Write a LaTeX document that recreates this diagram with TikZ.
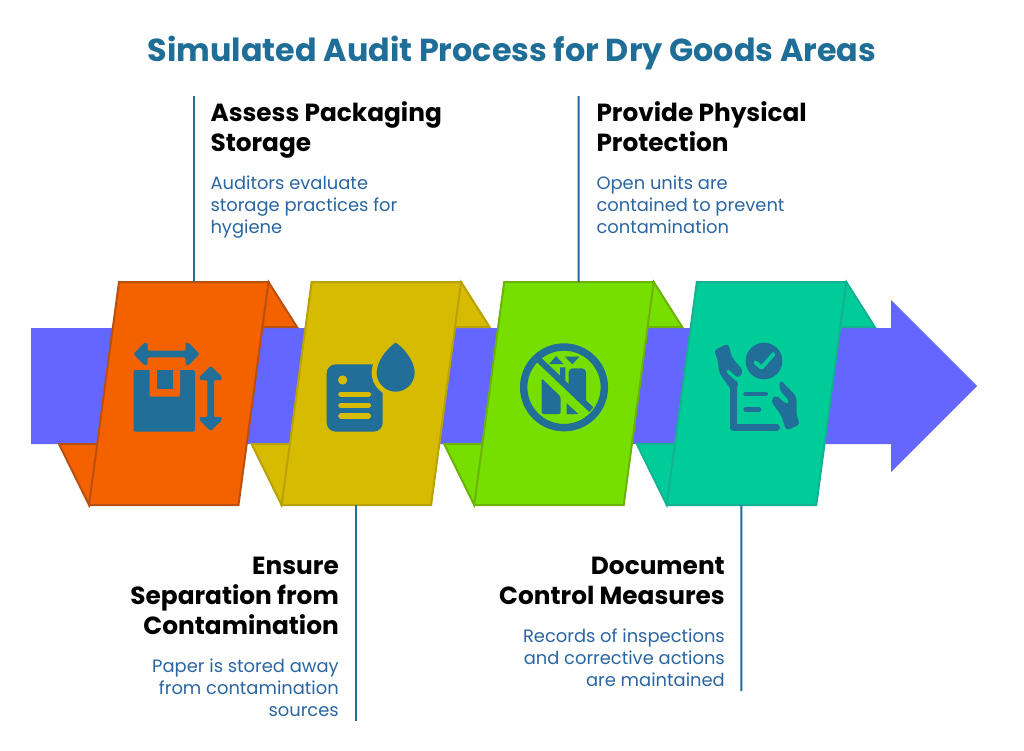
\documentclass[tikz,border=0pt]{standalone}
\usepackage{fontspec}
\setmainfont{Poppins}
\usetikzlibrary{positioning}

\definecolor{titleblue}{HTML}{1F6E97}
\definecolor{textblue}{HTML}{2A66A3}
\definecolor{iconblue}{HTML}{216E99}
\definecolor{arrowblue}{HTML}{6366FF}
\definecolor{cardorange}{HTML}{F46200}
\definecolor{edgeorange}{HTML}{B9500F}
\definecolor{cardyellow}{HTML}{D6BB00}
\definecolor{edgeyellow}{HTML}{B8A205}
\definecolor{cardgreen}{HTML}{76DF00}
\definecolor{edgegreen}{HTML}{6DB302}
\definecolor{cardteal}{HTML}{00CC99}
\definecolor{edgeteal}{HTML}{12B293}

\tikzset{
  heading/.style={font=\bfseries\fontsize{24.8}{30}\selectfont, inner sep=0},
  detail/.style={font=\fontsize{17.9}{22}\selectfont, text=textblue, inner sep=0},
  leader/.style={draw=iconblue, line width=2pt},
}

% double headed arrow of the first icon
\newcommand{\sizearrow}[4]{%
  \fill[iconblue, rounded corners=1.2pt, shift={(#1,#2)}, rotate=#3]
    (-#4,0) -- (-#4+10.5,-11) -- (-#4+14,-11) -- (-#4+14,-3.3) -- (#4-14,-3.3)
    -- (#4-14,-11) -- (#4-10.5,-11) -- (#4,0) -- (#4-10.5,11) -- (#4-14,11)
    -- (#4-14,3.3) -- (-#4+14,3.3) -- (-#4+14,11) -- (-#4+10.5,11) -- cycle;
}

\begin{document}
\begin{tikzpicture}[x=1pt, y=-1pt, line join=miter]
  \useasboundingbox [fill=white] (0,0) rectangle (1024,750);

  % Title
  \node [font=\bfseries\fontsize{31.8}{38}\selectfont, text=titleblue, inner sep=0, anchor=base] (title)
    at (512,61) {Simulated Audit Process for Dry Goods Areas};

  % Arrow
  \fill [arrowblue] (31,328) -- (891,328) -- (891,300) -- (977,386)
    -- (891,472) -- (891,444) -- (31,444) -- cycle;

  % Cards
  \foreach \cardc/\edgec/\nm [count=\i, evaluate={\dx=(\i-1)*192.6;}] in
    {cardorange/edgeorange/assess, cardyellow/edgeyellow/ensure,
     cardgreen/edgegreen/provide, cardteal/edgeteal/document} {
      \begin{scope}[xshift=\dx pt, fill=\cardc, draw=\edgec, line width=2pt]
        \filldraw (268.5,282) -- (297,327) -- (258,327) -- cycle;
        \filldraw (89,505) -- (59,444) -- (100,444) -- cycle;
        \filldraw (119,282) -- (268.5,282) -- (238.5,505) -- (89,505) -- cycle;
        \coordinate (\nm-top) at (193.5,282);
        \coordinate (\nm-bottom) at (163.5,505);
      \end{scope}
    }

  % Icon: package size
  \sizearrow{166.5}{354}{0}{33}
  \sizearrow{210.7}{398.5}{90}{32.5}
  \fill [iconblue, rounded corners=1.5pt] (133.5,370) rectangle (195,431.5);
  \fill [cardorange, rounded corners=1.5pt] (149.5,368) -- (149.5,396.7) -- (180,396.7) -- (180,368) -- cycle;
  \fill [iconblue] (156.7,370) rectangle (172.7,389.3);

  % Icon: wet document
  \begin{scope}[shift={(315,330)}, scale=1/3]
    \fill [iconblue, rounded corners=9pt] (35,103) rectangle (203,305);
    \path [fill=iconblue, draw=cardyellow, line width=10pt]
      (242,38) .. controls (215,55) and (185,95) .. (185,128)
      .. controls (185,160) and (212,185) .. (242,185)
      .. controls (272,185) and (299,160) .. (299,128)
      .. controls (299,95) and (269,55) .. (242,38) -- cycle;
    \fill [iconblue] (242,38) .. controls (215,55) and (185,95) .. (185,128)
      .. controls (185,160) and (212,185) .. (242,185)
      .. controls (272,185) and (299,160) .. (299,128)
      .. controls (299,95) and (269,55) .. (242,38) -- cycle;
    \fill [cardyellow] (83,150) circle (14);
    \foreach \ly in {193,226,258}
      \draw [cardyellow, line width=5.6pt, line cap=round] (78,\ly) -- (160,\ly);
  \end{scope}

  % Icon: no open units
  \begin{scope}[shift={(510,330)}, scale=1/3]
    \draw [iconblue, line width=7.4pt] (162,172) circle (121);
    \fill [iconblue] (118,102) -- (138,78) -- (160,102) -- cycle;
    \fill [iconblue] (165,80) -- (208,80) -- (187,103) -- cycle;
    \fill [iconblue] (150,112) -- (166,112) -- (166,165) -- (150,150) -- cycle;
    \fill [iconblue, rounded corners=4pt] (176,115) -- (228,115) -- (228,232) -- (176,180) -- cycle;
    \fill [iconblue] (88,78) -- (250,232) -- (238,246) -- (76,92) -- cycle;
    \fill [iconblue, rounded corners=2pt] (95,145) -- (152,200) -- (152,252) -- (95,252) -- cycle;
    \fill [iconblue] (170,220) -- (205,252) -- (170,252) -- cycle;
  \end{scope}

  % Icon: records in hands
  \begin{scope}[shift={(700,330)}, scale=1/3]
    \fill [iconblue] (192,93) circle (55);
    \draw [cardteal, line width=4pt, line cap=round, line join=round] (167,98) -- (185,113) -- (220,73);
    % left hand
    \fill [iconblue, rounded corners=4pt] (40,62) -- (85,40) -- (95,82) -- (130,122)
      -- (118,145) -- (90,130) -- (118,162) -- (100,188) -- (58,130) -- (52,82) -- cycle;
    \draw [cardteal, line width=3.4pt, line cap=round] (84,124) -- (110,148);
    % right hand
    \fill [iconblue, rounded corners=4pt] (302,282) -- (258,302) -- (245,258) -- (212,212)
      -- (226,194) -- (262,225) -- (270,214) -- (238,180) -- (240,148) -- (290,200) -- (290,265) -- cycle;
    % sheet
    \draw [iconblue, line width=6.6pt, line cap=round, line join=round] (100,175) -- (100,292) -- (230,292);
    \draw [iconblue, line width=4.6pt, line cap=round] (137,192) -- (197,192);
    \draw [iconblue, line width=4.6pt, line cap=round] (137,238) -- (177,238);
  \end{scope}

  % Top labels
  \node [heading, align=left, anchor=north west] (assessh) at (210.3,100) {\strut Assess Packaging\\Storage\strut};
  \node [detail, align=left, below=13.6pt of assessh.south west, anchor=north west] (assessd)
    {\strut Auditors evaluate\\storage practices for\\hygiene\strut};
  \node [heading, align=left, anchor=north west] (provideh) at (596.3,100) {\strut Provide Physical\\Protection\strut};
  \node [detail, align=left, below=13.6pt of provideh.south west, anchor=north west] (provided)
    {\strut Open units are\\contained to prevent\\contamination\strut};

  % Bottom labels
  \node [heading, align=right, anchor=north east] (ensureh) at (339,553) {\strut Ensure\\Separation from\\Contamination\strut};
  \node [detail, align=right, below=13.6pt of ensureh.south east, anchor=north east] (ensured)
    {\strut Paper is stored away\\from contamination\\sources\strut};
  \node [heading, align=right, anchor=north east] (documenth) at (725,553) {\strut Document\\Control Measures\strut};
  \node [detail, align=right, below=13.6pt of documenth.south east, anchor=north east] (documentd)
    {\strut Records of inspections\\and corrective actions\\are maintained\strut};

  % Leaders
  \coordinate (assessend) at (193.5,96);
  \coordinate (provideend) at (578.7,96);
  \coordinate (ensureend) at (356.1,721);
  \coordinate (documentend) at (741.3,691);
  \draw [leader] (assess-top) -- (assessend);
  \draw [leader] (ensure-bottom) -- (ensureend);
  \draw [leader] (provide-top) -- (provideend);
  \draw [leader] (document-bottom) -- (documentend);
\end{tikzpicture}
\end{document}
